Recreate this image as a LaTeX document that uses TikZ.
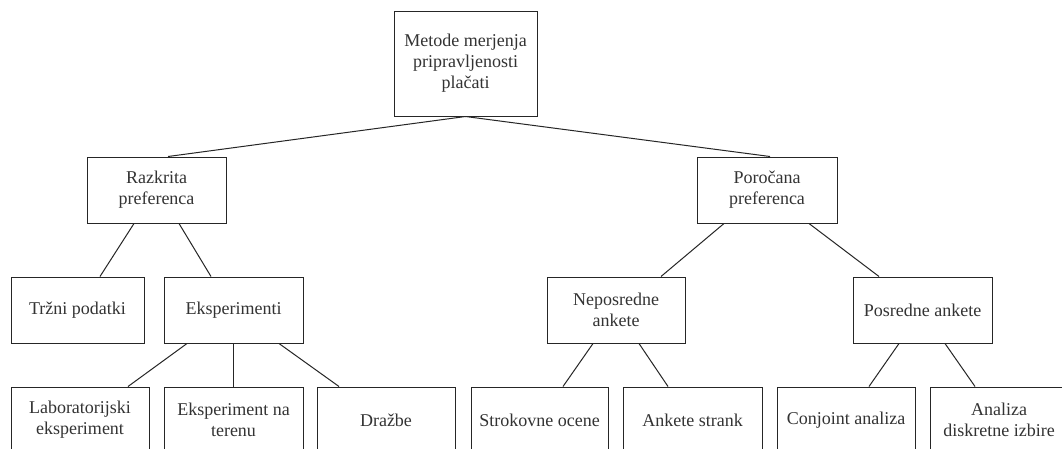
\documentclass[tikz,border=0pt]{standalone}
\usepackage{fontspec}
\setmainfont{Liberation Serif}
\usetikzlibrary{calc}
\begin{document}
\begin{tikzpicture}[x=1pt,y=-1pt,
  box/.style={draw=black!85,line width=1pt,fill=white,minimum height=66pt,inner sep=0pt,
    align=center,font=\fontsize{18}{21}\selectfont,text=black!80},
  link/.style={draw=black!85,line width=1pt}]
\clip (0,0) rectangle (1062,448);
\useasboundingbox (0,0) rectangle (1062,448);
\fill[white] (0,0) rectangle (1062,448);
% nodes
\node[box,minimum width=143pt,minimum height=105pt] (top) at (465.5,63.5) {Metode merjenja\\pripravljenosti\\plačati};
\node[box,minimum width=139pt] (razk) at (156.5,190) {Razkrita\\preferenca};
\node[box,minimum width=140pt] (poro) at (767,190) {Poročana\\preferenca};
\node[box,minimum width=133pt] (trzni) at (77.5,310) {Tržni podatki};
\node[box,minimum width=139pt] (eksp) at (233.5,310) {Eksperimenti};
\node[box,minimum width=138pt] (nepo) at (616,310) {Neposredne\\ankete};
\node[box,minimum width=139pt] (posr) at (922.5,310) {Posredne ankete};
\node[box,minimum width=138pt] (lab) at (80,420) {Laboratorijski\\eksperiment};
\node[box,minimum width=139pt] (teren) at (233.5,420) {Eksperiment na\\terenu};
\node[box,minimum width=138pt] (drazbe) at (386,420) {Dražbe};
\node[box,minimum width=137pt] (strok) at (539.5,420) {Strokovne ocene};
\node[box,minimum width=139pt] (ank) at (692.5,420) {Ankete strank};
\node[box,minimum width=138pt] (conj) at (846,420) {Conjoint analiza};
\node[box,minimum width=138pt] (anal) at (999,420) {Analiza\\diskretne izbire};
% connectors
\draw[link] (top.south) -- ($(razk.north)+(11.5,0)$);
\draw[link] (top.south) -- ($(poro.north)+(3,0)$);
\draw[link] ($(razk.south)+(-22.5,0)$) -- ($(trzni.north)+(22.5,0)$);
\draw[link] ($(razk.south)+(22.5,0)$) -- ($(eksp.north)+(-22.5,0)$);
\draw[link] ($(poro.south)+(-43,0)$) -- ($(nepo.north)+(45,0)$);
\draw[link] ($(poro.south)+(42,0)$) -- ($(posr.north)+(-43.5,0)$);
\draw[link] ($(eksp.south)+(-46.5,0)$) -- ($(lab.north)+(48,0)$);
\draw[link] (eksp.south) -- (teren.north);
\draw[link] ($(eksp.south)+(45.5,0)$) -- ($(drazbe.north)+(-47,0)$);
\draw[link] ($(nepo.south)+(-23,0)$) -- ($(strok.north)+(23.5,0)$);
\draw[link] ($(nepo.south)+(23,0)$) -- ($(ank.north)+(-24.5,0)$);
\draw[link] ($(posr.south)+(-23.5,0)$) -- ($(conj.north)+(23,0)$);
\draw[link] ($(posr.south)+(22.5,0)$) -- ($(anal.north)+(-24,0)$);
\end{tikzpicture}
\end{document}
